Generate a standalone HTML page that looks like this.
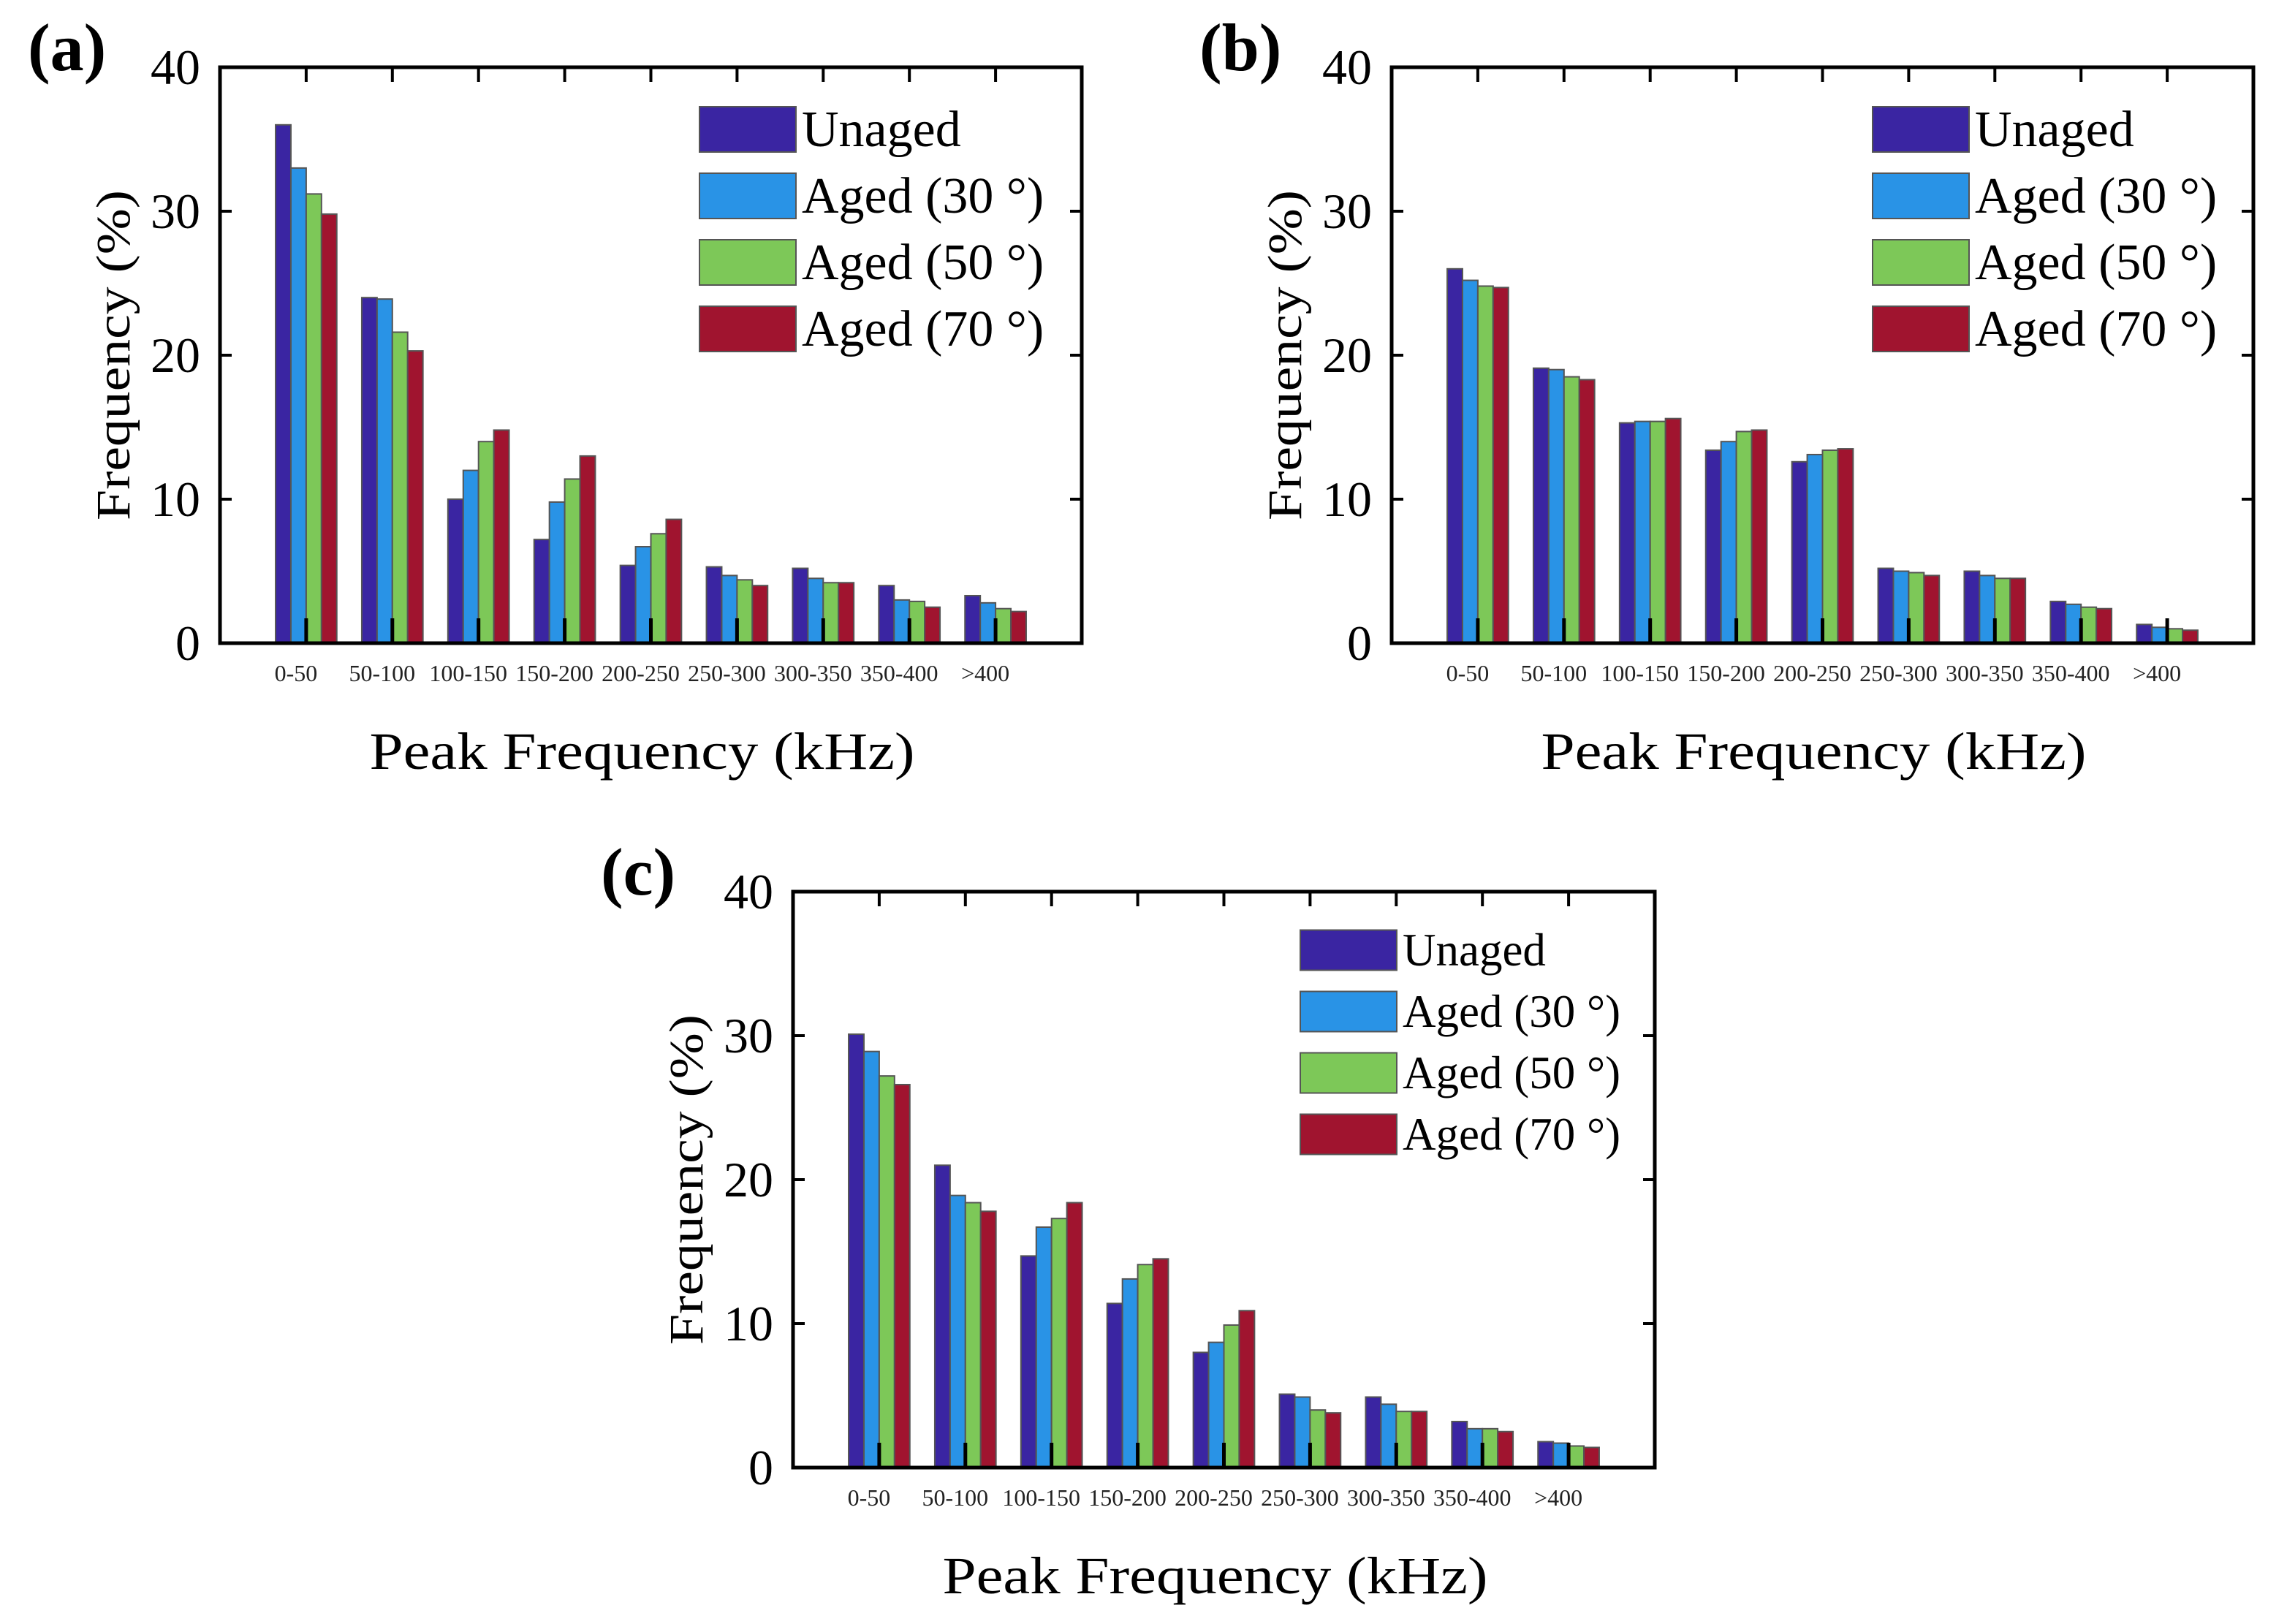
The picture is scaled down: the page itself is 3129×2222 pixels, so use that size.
<!DOCTYPE html>
<html><head><meta charset="utf-8"><style>
html,body{margin:0;padding:0;background:#fff;}
svg{display:block;font-family:"Liberation Serif",serif;}
</style></head><body>
<svg id="fig" width="3129" height="2222" viewBox="0 0 3129 2222"></svg>
<script>
const categories=["0-50","50-100","100-150","150-200","200-250","250-300","300-350","350-400",">400"];
const seriesNames=["Unaged","Aged (30 °)","Aged (50 °)","Aged (70 °)"];
const yTicks=[0,10,20,30,40];
const aUnaged=[36,24,10,7.2,5.4,5.3,5.2,4.0,3.3];
const aAged30=[33,23.9,12,9.8,6.7,4.7,4.5,3.0,2.8];
const aAged50=[31.2,21.6,14,11.4,7.6,4.4,4.2,2.9,2.4];
const aAged70=[29.8,20.3,14.8,13,8.6,4.0,4.2,2.5,2.2];
const bUnaged=[26,19.1,15.3,13.4,12.6,5.2,5.0,2.9,1.3];
const bAged30=[25.2,19,15.4,14,13.1,5.0,4.7,2.7,1.1];
const bAged50=[24.8,18.5,15.4,14.7,13.4,4.9,4.5,2.5,1.0];
const bAged70=[24.7,18.3,15.6,14.8,13.5,4.7,4.5,2.4,0.9];
const cUnaged=[30.1,21,14.7,11.4,8.0,5.1,4.9,3.2,1.8];
const cAged30=[28.9,18.9,16.7,13.1,8.7,4.9,4.4,2.7,1.7];
const cAged50=[27.2,18.4,17.3,14.1,9.9,4.0,3.9,2.7,1.5];
const cAged70=[26.6,17.8,18.4,14.5,10.9,3.8,3.9,2.5,1.4];

const colors=["#3a25a2","#2993e6","#7dc858","#a0142f"];
const NS="http://www.w3.org/2000/svg";
const svg=document.getElementById('fig');
function mk(tag,attrs,parent,text){const e=document.createElementNS(NS,tag);for(const k in attrs)e.setAttribute(k,attrs[k]);if(text!==undefined)e.textContent=text;(parent||svg).appendChild(e);return e;}

function panel(id,label,L,T,R,B,series,legX,legY,legStep,legH,legFont){
  const g=mk('g',{});
  
  
  const W=R-L,H=B-T;
  const xs=i=>L+(i+1)*W/10;
  const ys=v=>B-v/40*H;
  const groupW=W/10*0.71, bw=groupW/4;
  const lab=mk('text',{x:L-263,y:T+4,'font-size':92,'font-weight':'bold'},g,'('+label+')');
  
  
  series.forEach((s,si)=>{
    s.forEach((v,ci)=>{
      const x=xs(ci)-groupW/2+si*bw;
      const r=mk('rect',{x:x,y:ys(v),width:bw,height:B-ys(v),fill:colors[si],stroke:'#555','stroke-width':2},g);
      
      
    });
  });
  categories.forEach((c,ci)=>{
    mk('line',{x1:xs(ci),x2:xs(ci),y1:B,y2:B-34,stroke:'#000','stroke-width':5},g);
    mk('line',{x1:xs(ci),x2:xs(ci),y1:T,y2:T+20,stroke:'#000','stroke-width':4},g);
    const t=mk('text',{x:xs(ci)-14,y:B+52,'font-size':32,'text-anchor':'middle',fill:'#222'},g,c);
    
    
  });
  yTicks.forEach(v=>{
    if(v>0&&v<40){
      mk('line',{x1:L,x2:L+16,y1:ys(v),y2:ys(v),stroke:'#000','stroke-width':4},g);
      mk('line',{x1:R,x2:R-16,y1:ys(v),y2:ys(v),stroke:'#000','stroke-width':4},g);
    }
    const t=mk('text',{x:L-27,y:ys(v)+23,'font-size':68,'text-anchor':'end'},g,String(v));
    
    
  });
  const box=mk('rect',{x:L,y:T,width:W,height:H,fill:'none',stroke:'#000','stroke-width':5},g);
  
  
  const yl=mk('text',{x:0,y:0,'font-size':66,'text-anchor':'middle',textLength:452,lengthAdjust:'spacingAndGlyphs',transform:'translate('+(L-124)+','+((T+B)/2)+') rotate(-90)'},g,'Frequency (%)');
  
  
  const xl=mk('text',{x:(L+R)/2-12,y:B+172,'font-size':72,'text-anchor':'middle',textLength:746,lengthAdjust:'spacingAndGlyphs'},g,'Peak Frequency (kHz)');
  
  
  seriesNames.forEach((n,si)=>{
    const cy=T+legY+si*legStep;
    const sw=mk('rect',{x:L+legX,y:cy-legH/2,width:132,height:legH,fill:colors[si],stroke:'#555','stroke-width':2},g);
    
    
    const t=mk('text',{x:L+legX+140,y:cy+legFont*0.33,'font-size':legFont},g,n);
    
    
  });
}
panel('a','a',301,92,1480,880,[aUnaged,aAged30,aAged50,aAged70],656,85,91,62,70);
panel('b','b',1904,92,3083,880,[bUnaged,bAged30,bAged50,bAged70],658,85,91,62,70);
panel('c','c',1085,1220,2264,2008,[cUnaged,cAged30,cAged50,cAged70],694,80,84,55,63);
</script>
</body></html>
